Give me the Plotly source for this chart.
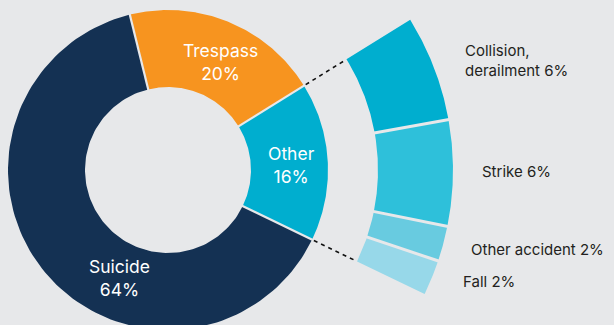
import numpy as np
import plotly.graph_objects as go

# Main breakdown (share of fatalities, %)
main_labels = ["Trespass", "Other", "Suicide"]
main_share = [20, 16, 64]
main_colors = ["#f7941f", "#00aecf", "#143153"]

# Breakdown of "Other"
sub_labels = ["Collision,<br>derailment", "Strike", "Other accident", "Fall"]
sub_share = [6, 6, 2, 2]
sub_colors = ["#00aecf", "#2ec0da", "#68cbe0", "#97d8e9"]

BG = "#e7e8ea"

# Geometry in pixel units (x right, y down)
CX, CY = 168, 170
R_IN, R_OUT = 83, 160
RING_IN, RING_OUT = 210, 285
START = -13.8  # degrees clockwise from 12 o'clock


def pt(r, ang):
    a = np.radians(ang)
    return CX + r * np.sin(a), CY - r * np.cos(a)


def sector(r0, r1, a0, a1):
    t = np.linspace(a0, a1, 120)
    xo, yo = pt(r1, t)
    xi, yi = pt(r0, t[::-1])
    return np.concatenate([xo, xi, xo[:1]]), np.concatenate([yo, yi, yo[:1]])


fig = go.Figure()

# Donut slices
bounds = START + 3.6 * np.concatenate([[0], np.cumsum(main_share)])
for lab, c, a0, a1 in zip(main_labels, main_colors, bounds[:-1], bounds[1:]):
    x, y = sector(R_IN, R_OUT, a0, a1)
    fig.add_trace(go.Scatter(x=x, y=y, fill="toself", fillcolor=c, mode="lines",
                             line=dict(width=0), hoverinfo="skip", name=lab))
for a in bounds[:-1]:
    x, y = pt(np.array([R_IN - 2, R_OUT + 2]), a)
    fig.add_trace(go.Scatter(x=x, y=y, mode="lines", line=dict(color=BG, width=2.2),
                             hoverinfo="skip"))

# Ring for the "Other" breakdown, spanning the same angles as the "Other" slice
oth = main_labels.index("Other")
sb = bounds[oth] + 3.6 * np.concatenate([[0], np.cumsum(sub_share)])
for lab, c, a0, a1 in zip(sub_labels, sub_colors, sb[:-1], sb[1:]):
    x, y = sector(RING_IN, RING_OUT, a0, a1)
    fig.add_trace(go.Scatter(x=x, y=y, fill="toself", fillcolor=c, mode="lines",
                             line=dict(width=0), hoverinfo="skip", name=lab))
for a in sb[1:-1]:
    x, y = pt(np.array([RING_IN - 2, RING_OUT + 2]), a)
    fig.add_trace(go.Scatter(x=x, y=y, mode="lines", line=dict(color=BG, width=3),
                             hoverinfo="skip"))

# Dashed connectors between the slice and the ring
for a in (sb[0], sb[-1]):
    x, y = pt(np.array([R_OUT + 2, RING_IN - 1]), a)
    fig.add_trace(go.Scatter(x=x, y=y, mode="lines",
                             line=dict(color="#111111", width=1.6, dash="4px,4px"),
                             hoverinfo="skip"))

FONT = "Inter, Noto Sans, sans-serif"

# Slice labels (white)
slice_pos = [(220, 62), (291, 165), (119, 278)]
for lab, v, (x, y) in zip(main_labels, main_share, slice_pos):
    fig.add_annotation(x=x, y=y, xref="x", yref="y", text=f"{lab}<br>{v}%",
                       showarrow=False, xanchor="center", yanchor="middle",
                       font=dict(family=FONT, size=17.5, color="white"))

# Ring labels (dark)
ring_pos = [(463, 60), (480, 171), (469, 249), (461, 281)]
for lab, v, (x, y) in zip(sub_labels, sub_share, ring_pos):
    fig.add_annotation(x=x, y=y, xref="x", yref="y", text=f"{lab} {v}%",
                       showarrow=False, xanchor="left", yanchor="middle", align="left",
                       font=dict(family=FONT, size=15, color="#231f20"))

fig.update_layout(
    width=614, height=325,
    margin=dict(l=0, r=0, t=0, b=0),
    paper_bgcolor=BG, plot_bgcolor=BG,
    showlegend=False,
    xaxis=dict(range=[0, 614], visible=False, fixedrange=True),
    yaxis=dict(range=[325, 0], visible=False, fixedrange=True),
)

fig.write_html("out.html")
